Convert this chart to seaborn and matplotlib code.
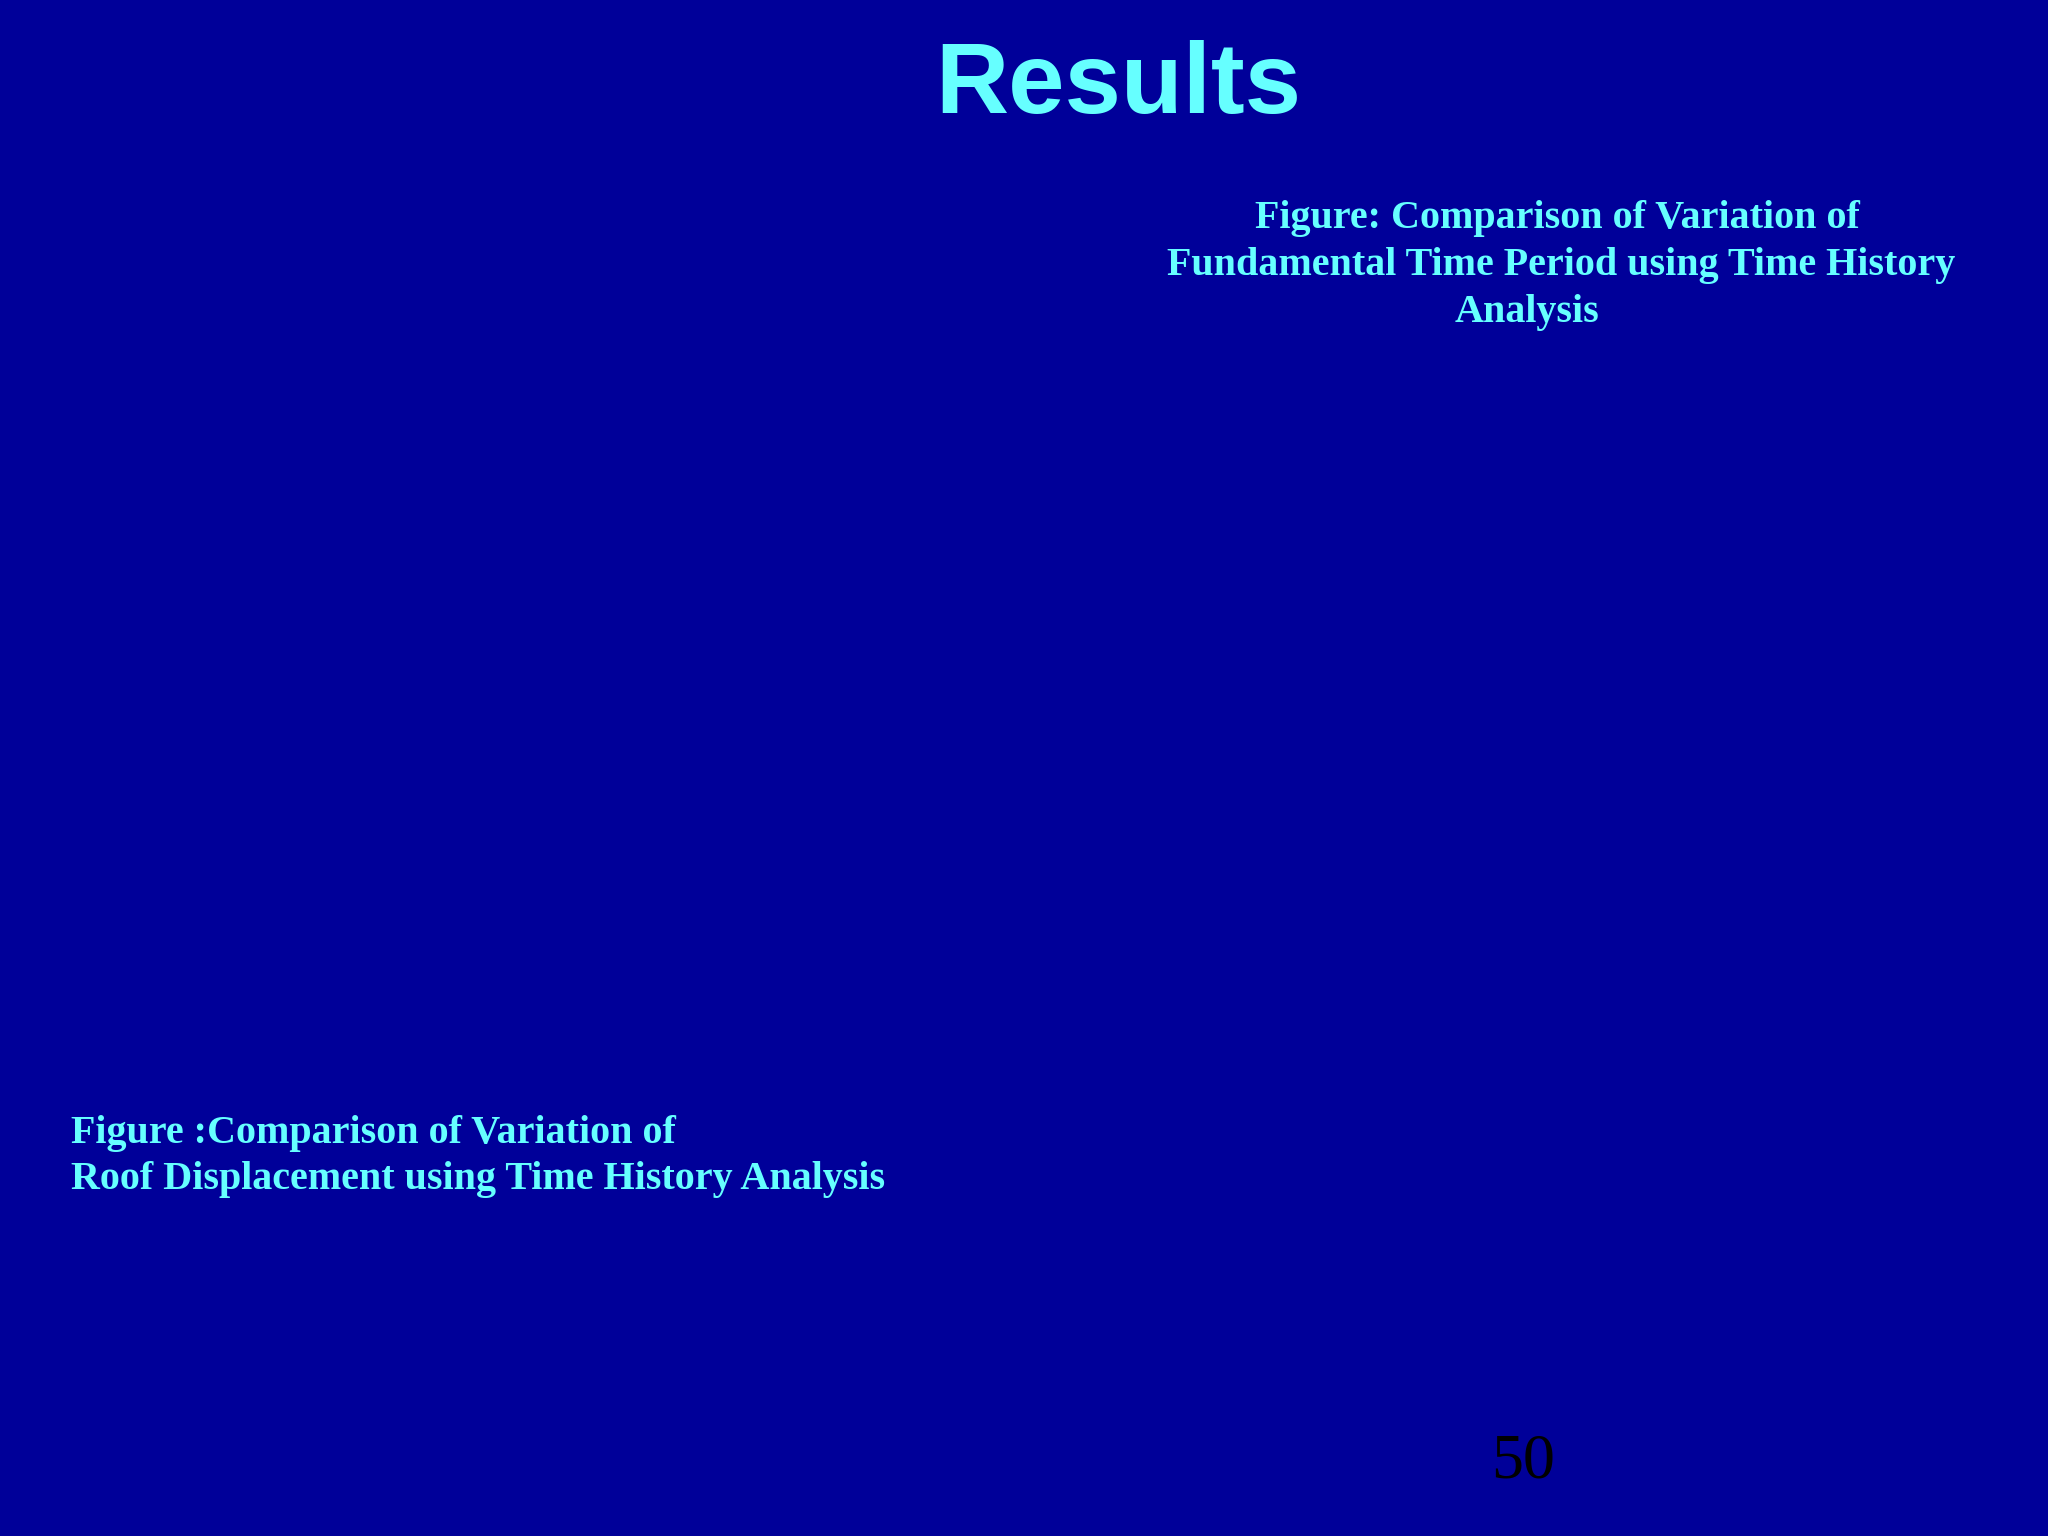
import matplotlib
matplotlib.use("Agg")
import matplotlib.pyplot as plt
import seaborn as sns

# slide text content
title = "Results"
right_caption = [
    "Figure: Comparison of Variation of",
    "Fundamental Time Period using Time History",
    "Analysis",
]
left_caption = [
    "Figure :Comparison of Variation of",
    "Roof Displacement using Time History Analysis",
]
page_number = "50"

BG = "#000099"
CYAN = "#66FFFF"
W, H = 2048, 1536

sns.set_theme(style="white", rc={"figure.facecolor": BG, "axes.facecolor": BG})

fig = plt.figure(figsize=(W / 100, H / 100), dpi=100)
ax = fig.add_axes([0, 0, 1, 1])
ax.set_xlim(0, W)
ax.set_ylim(H, 0)
ax.axis("off")


def put(x, y, s, **kw):
    ax.text(x, y, s, va="baseline", **kw)


put(1118, 113, title, ha="center", fontsize=73, fontweight="bold",
    family=["Liberation Sans", "DejaVu Sans"], color=CYAN)

# right caption, each line centred on its own
right_x = [1557, 1561, 1527]
right_base = [228, 275, 322]
for s, x, y in zip(right_caption, right_x, right_base):
    put(x, y, s, ha="center", fontsize=28.9, fontweight="bold",
        family=["Liberation Serif", "DejaVu Serif"], color=CYAN)

left_base = [1143, 1189]
for s, y in zip(left_caption, left_base):
    put(71, y, s, ha="left", fontsize=28.9, fontweight="bold",
        family=["Liberation Serif", "DejaVu Serif"], color=CYAN)

put(1523, 1477, page_number, ha="center", fontsize=46,
    family=["Liberation Serif", "DejaVu Serif"], color="black")

fig.savefig("out.png", dpi=100, facecolor=BG)
